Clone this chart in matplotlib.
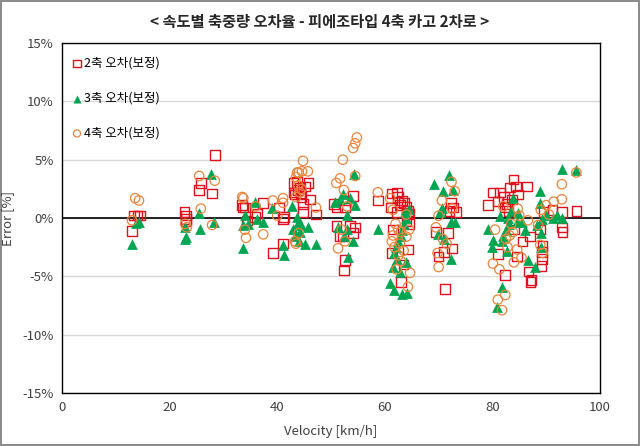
import matplotlib
matplotlib.use("Agg")
import matplotlib.pyplot as plt
import matplotlib.ticker as ticker

plt.rcParams["font.family"] = ["Noto Sans CJK KR", "DejaVu Sans"]

TITLE = "< 속도별 축중량 오차율 - 피에조타입 4축 카고 2차로 >"
LABELS = ["2축 오차(보정)", "3축 오차(보정)", "4축 오차(보정)"]

# 2축 (squares): velocity [km/h], error [%]
ax2_v = [13.0, 13.4, 14.0, 14.5, 22.8, 23.0, 23.0, 23.1, 25.8, 25.5, 27.9, 28.4,
         33.5, 33.7, 34.0, 34.4, 35.9, 36.3, 37.4, 39.2, 40.3, 41.1, 41.3, 41.1,
         43.0, 43.7, 45.8, 45.2, 43.9, 44.3, 43.3, 43.0, 44.5, 46.1, 44.8, 44.8, 47.2, 44.2,
         51.1, 52.8, 54.1, 52.6, 51.0, 53.5, 54.5, 54.1, 51.7, 52.2, 52.6, 52.4, 50.6,
         58.7, 61.3, 62.3, 62.5, 63.2, 63.6, 64.0, 64.3, 64.5, 61.1, 62.8, 61.5, 64.3,
         61.3, 63.0, 64.0, 64.6, 62.3, 63.5,
         72.3, 72.7, 73.2, 71.7, 69.5, 72.5, 71.0, 70.0, 71.2, 72.0,
         83.9, 83.3, 84.4, 86.4, 80.1, 81.4, 84.8, 82.2, 81.0, 79.2, 82.7, 83.0, 82.3,
         85.6, 87.0, 84.6, 81.0, 86.7, 87.3, 82.3, 83.6, 84.0,
         95.6, 89.5, 91.2, 92.9, 92.9, 93.0, 88.9, 89.3, 89.2, 89.2, 89.1, 87.1]
ax2_e = [-1.1, 0.2, 0.2, 0.2, 0.5, 0.2, -0.1, -0.3, 3.0, 2.4, 2.1, 5.4,
         1.1, 0.9, 0.9, -0.2, 0.1, 0.4, 1.3, -3.0, 0.9, -2.2, 0.1, -0.1,
         3.0, 3.1, 3.0, 2.7, 2.4, 2.1, 2.0, 2.2, 1.8, 1.6, 1.2, 0.5, 0.3, 2.6,
         0.9, 1.5, 1.9, 0.9, -0.7, -0.7, -0.8, -1.3, -1.6, -1.6, -3.6, -4.5, 1.2,
         1.5, 2.1, 2.2, 1.8, 1.5, 1.3, 1.0, 0.6, 0.4, 0.9, 1.1, -1.0, -2.7,
         -3.0, -5.5, -0.3, -0.5, 0.5, -4.0,
         1.3, 0.9, 0.5, -1.3, -1.2, -2.6, -2.9, -3.3, -6.1, 0.6,
         3.3, 2.6, 2.7, 2.7, 2.2, 2.2, 2.0, 1.8, 1.4, 1.1, 1.2, 0.6, 0.9,
         -2.0, -1.6, -3.3, -3.1, -4.6, -5.3, -4.9, 1.6, -1.0,
         0.6, 0.5, 0.7, 0.5, -0.8, -1.2, -1.0, -2.4, -2.9, -3.5, -4.1, -5.5]

# 3축 (triangles)
ax3_v = [13.0, 13.8, 14.3, 22.9, 23.0, 22.8, 25.5, 25.7, 27.7, 28.3,
         33.6, 33.6, 34.0, 35.9, 37.4, 36.2, 39.0, 41.1, 41.3, 34.5,
         42.7, 43.7, 43.9, 43.0, 44.3, 45.8, 43.3, 45.2, 47.2, 44.5, 44.0,
         50.8, 51.6, 54.5, 53.0, 51.3, 53.0, 52.4, 54.1, 53.2, 54.3, 52.2, 53.5,
         58.7, 63.8, 63.9, 63.5, 63.2, 63.0, 62.5, 62.0, 61.7, 62.3, 61.5, 61.0,
         61.8, 63.2, 64.1, 64.5, 64.0, 62.8,
         69.2, 72.0, 70.9, 72.6, 70.3, 70.6, 72.3, 73.1, 69.8, 72.3, 71.0,
         83.9, 82.9, 83.0, 82.5, 82.0, 81.8, 84.5, 85.5, 79.2, 80.1, 80.0, 86.6,
         81.8, 80.9, 86.0, 83.5, 84.8, 82.7, 81.5,
         92.9, 95.5, 88.9, 88.9, 89.2, 91.2, 93.0, 90.0, 92.0, 89.0, 89.0, 88.0, 88.3]
ax3_e = [-2.2, -0.4, -0.3, -0.8, -1.6, -1.8, 0.4, -0.9, 3.8, -0.3,
         -0.6, -2.6, 0.3, 1.4, -0.3, -0.1, 0.9, -2.3, -3.2, -0.5,
         1.0, 0.1, -0.4, -0.9, -1.2, -0.8, -1.5, -2.2, -2.2, -0.6, -2.0,
         1.4, 1.6, 1.1, 0.3, -0.8, -0.9, -1.5, -2.0, -3.3, 3.8, 2.1, 1.7,
         -0.9, 0.5, 0.0, -0.5, -1.0, -1.5, -2.0, -2.5, -3.0, -3.5, -4.2, -5.6,
         -6.2, -6.5, -6.4, 0.8, -3.8, -4.6,
         2.9, 3.7, 2.3, 2.4, 0.5, 0.9, -0.3, -0.3, -1.4, -3.5, -1.8,
         1.7, 0.0, -0.5, -1.0, -1.5, -2.0, -0.3, -0.3, -0.9, -1.9, -2.5, -3.6,
         -5.9, -7.6, -1.0, 0.6, 0.4, -2.8, 0.2,
         4.2, 4.1, 2.3, 1.3, -0.1, 0.0, 0.0, 0.3, 0.3, -1.3, -2.5, -4.2, -0.6]

# 4축 (circles)
ax4_v = [13.6, 14.3, 13.0, 22.9, 23.2, 25.5, 28.4, 25.8, 27.9,
         33.5, 33.7, 34.2, 34.0, 39.2, 41.1, 41.1, 37.4, 36.0, 40.0,
         44.8, 44.0, 44.6, 45.7, 43.7, 43.5, 44.5, 43.9, 47.2, 44.0, 43.3, 43.5, 44.2, 43.5,
         54.8, 54.5, 54.1, 52.2, 51.7, 51.0, 52.4, 54.5, 52.6, 51.3, 53.0, 52.0,
         58.7, 61.0, 61.5, 62.0, 62.5, 61.5, 63.0, 62.8, 61.8, 64.0, 62.5, 63.0,
         64.7, 64.3, 62.2, 63.5, 61.3, 64.5, 64.0,
         72.4, 73.0, 70.6, 69.5, 70.8, 71.5, 69.8, 70.0, 72.5, 70.0,
         82.0, 84.7, 86.6, 83.8, 82.5, 84.6, 85.4, 80.1, 82.4, 81.0, 81.8, 83.5,
         82.8, 84.0, 81.3, 83.2, 85.0, 80.5,
         95.6, 92.9, 92.9, 91.4, 90.0, 89.0, 88.5, 88.9, 89.3, 90.5]
ax4_e = [1.7, 1.5, -0.2, -0.5, -0.8, 3.6, 3.2, 0.8, -0.6,
         1.8, 1.7, -1.7, -1.0, 1.5, 1.7, 1.3, -1.4, 1.0, 0.2,
         4.9, 3.9, 4.0, 4.0, 3.9, 3.5, 2.5, 2.8, 0.9, -1.3, -2.0, -2.2, 2.2, 1.8,
         6.9, 6.4, 6.0, 5.0, 3.4, 3.0, 2.4, 3.6, -2.0, -2.6, 1.0, -1.0,
         2.2, 1.7, 0.7, -0.5, -1.0, -1.5, -1.2, -2.2, -2.5, -1.6, -3.2, -3.7,
         -4.7, -5.9, -4.4, -2.8, -2.0, -1.0, 0.3,
         3.1, 2.3, 1.5, -0.8, -1.8, -2.2, -3.0, -4.2, 0.8, 0.2,
         1.0, 0.8, -0.2, -1.2, -1.8, -2.7, -3.4, -3.9, -6.6, -7.0, -7.9, -0.5,
         -2.5, -3.8, -4.4, -1.5, 0.2, -1.0,
         3.9, 2.9, 1.6, 1.4, 1.1, 0.7, -0.6, -2.3, -3.0, 0.3]

RED = "#E0101E"
GREEN = "#00A651"
ORANGE = "#E8853D"

fig = plt.figure(figsize=(6.4, 4.46), dpi=100)
fig.patch.set_facecolor("white")
fig.patch.set_edgecolor("#8C8C8C")
fig.patch.set_linewidth(1.5)

ax = fig.add_axes([62 / 640, 1 - 393 / 446, 538 / 640, 350 / 446])

ax.scatter(ax2_v, [e / 100 for e in ax2_e], marker="s", s=48, facecolors="none",
           edgecolors=RED, linewidths=1.0, label=LABELS[0], zorder=3)
ax.scatter(ax3_v, [e / 100 for e in ax3_e], marker="^", s=60, color=GREEN,
           linewidths=0, label=LABELS[1], zorder=4)
ax.scatter(ax4_v, [e / 100 for e in ax4_e], marker="o", s=46, facecolors="none",
           edgecolors=ORANGE, linewidths=0.9, label=LABELS[2], zorder=5)

ax.axhline(0, color="black", linewidth=1.2, zorder=2)

ax.set_xlim(0, 100)
ax.set_ylim(-0.15, 0.15)
ax.xaxis.set_major_locator(ticker.MultipleLocator(20))
ax.yaxis.set_major_locator(ticker.MultipleLocator(0.05))
ax.yaxis.set_major_formatter(ticker.FuncFormatter(lambda v, _: f"{v * 100:.0f}%"))
ax.grid(axis="y", color="#D9D9D9", linewidth=1.0, zorder=0)
ax.set_axisbelow(True)
ax.tick_params(length=0, labelsize=9.5, colors="#404040", pad=6)
for spine in ax.spines.values():
    spine.set_edgecolor("black")
    spine.set_linewidth(1.0)

ax.set_xlabel("Velocity [km/h]", fontsize=9.5, color="#404040", labelpad=8)
ax.set_ylabel("Error [%]", fontsize=9.5, color="#404040", labelpad=6)
fig.text(0.5, 1 - 22 / 446, TITLE, ha="center", va="center", fontsize=11,
         fontweight="bold", color="#262626")

ax.legend(loc="upper left", bbox_to_anchor=(0.0, 0.985), frameon=False,
          fontsize=9, labelspacing=1.75, handletextpad=0.1, borderaxespad=0.3,
          handlelength=1.0, scatterpoints=1, markerscale=0.75)

fig.savefig("out.png", dpi=100, facecolor=fig.get_facecolor(),
            edgecolor=fig.get_edgecolor())
